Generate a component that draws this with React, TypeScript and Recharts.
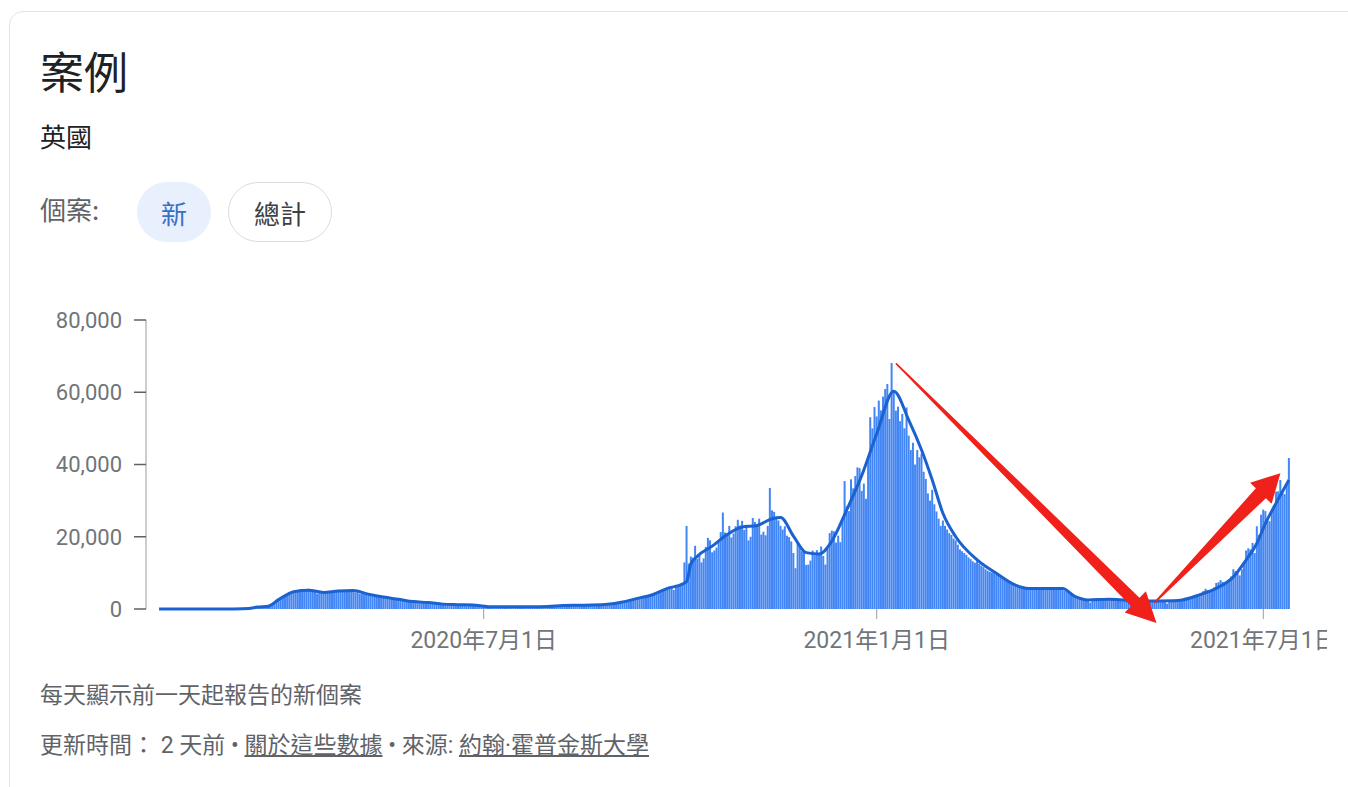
import React from 'react';
import { ComposedChart, Bar, Line, XAxis, YAxis, ReferenceLine } from 'recharts';

// ---------- data (daily new cases, UK) ----------
const startDate = '2020-01-31';
const cases2020Jan = [2];
const cases2020Feb = [0, 0, 0, 0, 0, 0, 1, 0, 1, 4, 0, 0, 0, 0, 0, 0, 0, 0, 0, 0, 0, 0, 0, 4, 0, 0, 3, 2, 7];
const cases2020Mar = [12, 13, 4, 11, 34, 30, 48, 43, 67, 48, 52, 83, 134, 350, 450, 500, 600, 650, 700, 750, 800, 900, 1200, 1600, 2000, 2500, 2900, 3300, 3600, 3900, 4200];
const cases2020Apr = [4500, 4700, 4900, 4600, 5100, 5300, 5000, 5400, 5200, 5600, 5100, 5300, 4800, 4300, 4400, 4500, 4200, 4600, 4700, 5000, 4900, 5200, 4800, 5300, 5000, 5100, 4700, 4900, 5400, 5200];
const cases2020May = [5000, 4600, 4700, 4300, 4400, 4100, 4200, 3700, 3900, 3500, 3700, 3400, 3500, 3100, 3300, 3000, 3100, 2700, 2900, 2600, 2800, 2500, 2600, 2300, 2400, 2100, 2200, 1900, 2100, 1800, 1900];
const cases2020Jun = [1900, 1750, 1850, 1800, 1700, 1800, 1600, 1500, 1400, 1350, 1300, 1350, 1250, 1300, 1200, 1250, 1150, 1200, 1250, 1150, 1200, 1100, 1150, 1100, 1050, 1100, 1000, 850, 750, 700];
const cases2020Jul = [650, 600, 640, 580, 560, 620, 600, 610, 590, 630, 570, 560, 610, 620, 600, 650, 900, 640, 600, 590, 620, 640, 660, 630, 610, 650, 680, 700, 690, 720, 710];
const cases2020Aug = [750, 800, 850, 900, 950, 1000, 980, 1020, 1000, 1050, 1030, 1060, 1040, 1070, 1050, 1000, 1080, 1100, 1120, 1090, 1110, 1130, 1150, 1100, 1180, 1200, 1250, 1300, 1350, 1400, 1450];
const cases2020Sep = [1550, 1750, 1800, 1950, 2050, 2150, 2350, 2450, 2700, 2750, 3000, 3050, 3200, 3350, 3450, 3700, 3750, 3950, 4100, 4350, 4500, 4900, 5000, 5500, 5600, 6000, 5800, 5300, 6700, 6600];
const cases2020Oct = [6900, 7100, 12900, 23000, 12600, 14500, 14200, 17500, 13900, 15200, 12900, 14000, 17200, 19700, 19000, 15700, 16200, 17000, 18800, 21300, 26700, 21200, 20500, 23000, 19800, 20900, 22900, 24700, 23100, 24400, 21900];
const cases2020Nov = [23300, 19000, 20000, 25200, 24100, 23300, 25000, 20600, 21400, 20400, 23000, 33500, 27300, 26900, 25000, 24500, 23000, 22000, 22900, 20300, 19900, 18700, 15500, 11300, 18200, 17600, 16000, 15900, 12200, 12300];
const cases2020Dec = [13400, 16200, 14900, 16300, 15500, 17300, 14700, 12300, 16600, 21000, 21700, 21500, 18400, 20300, 18500, 25200, 35400, 28500, 27100, 35900, 33400, 36800, 39200, 39000, 32700, 34700, 30500, 41400, 53100, 50000, 55900];
const cases2021Jan = [53300, 57700, 55000, 58800, 60900, 62300, 52600, 68100, 59900, 54900, 56000, 52000, 54000, 50000, 55800, 48000, 44000, 46000, 40000, 44000, 42000, 43000, 38000, 36000, 32000, 30000, 33000, 29000, 27000, 25000, 23000];
const cases2021Feb = [24500, 23000, 22000, 21000, 20500, 19500, 19000, 17800, 16500, 16000, 15500, 15000, 14300, 13800, 13200, 12800, 13200, 12500, 12000, 11600, 11000, 10600, 10300, 10100, 9900, 9500, 9200, 8800];
const cases2021Mar = [8400, 8000, 7600, 7300, 7000, 6800, 6500, 6300, 6100, 5900, 6000, 5800, 5700, 5900, 5600, 5500, 5800, 5700, 5600, 5800, 5700, 5900, 5600, 5800, 5700, 5900, 5600, 5500, 5300, 5000, 4800];
const cases2021Apr = [4400, 4000, 3600, 3200, 2900, 2700, 2500, 2600, 2700, 2500, 1800, 2800, 2600, 2700, 2800, 2700, 2600, 2500, 2700, 2800, 2600, 2700, 2500, 2600, 2400, 2300, 2400, 2300, 2200, 2300];
const cases2021May = [2200, 2100, 2000, 2100, 2300, 2200, 2200, 2100, 2200, 2100, 2200, 2300, 2200, 2100, 2200, 2300, 1500, 2300, 2400, 2300, 2400, 2300, 2500, 2400, 2600, 2800, 3000, 3200, 3300, 3400, 3500];
const cases2021Jun = [3800, 4300, 5000, 5600, 5200, 5000, 5400, 6000, 7200, 7400, 8000, 7500, 7200, 7600, 7700, 9000, 11000, 10500, 10300, 9300, 11000, 12500, 16200, 16800, 16500, 18300, 15500, 22900, 20500, 26100];
const cases2021Jul = [27500, 27100, 24900, 24300, 27300, 28800, 32500, 32600, 35700, 32400, 31800, 34500, 41800];

// 7-day average line
const avgDates = [
  '2020-01-31', '2020-02-14', '2020-02-28', '2020-03-06', '2020-03-13', '2020-03-17', '2020-03-22', '2020-03-27',
  '2020-04-03', '2020-04-10', '2020-04-17', '2020-04-24', '2020-05-01', '2020-05-08', '2020-05-15', '2020-05-22',
  '2020-05-29', '2020-06-05', '2020-06-12', '2020-06-19', '2020-06-26', '2020-07-03', '2020-07-10', '2020-07-17',
  '2020-07-24', '2020-07-31', '2020-08-07', '2020-08-14', '2020-08-21', '2020-08-28', '2020-09-04', '2020-09-11',
  '2020-09-18', '2020-09-25', '2020-10-02', '2020-10-04', '2020-10-06', '2020-10-09', '2020-10-16', '2020-10-23',
  '2020-10-30', '2020-11-06', '2020-11-13', '2020-11-17', '2020-11-23', '2020-11-29', '2020-12-05', '2020-12-11',
  '2020-12-18', '2020-12-25', '2021-01-01', '2021-01-09', '2021-01-16', '2021-01-22', '2021-01-27', '2021-02-01',
  '2021-02-07', '2021-02-17', '2021-02-26', '2021-03-07', '2021-03-13', '2021-03-29', '2021-04-04', '2021-04-10',
  '2021-04-20', '2021-05-05', '2021-05-20', '2021-05-24', '2021-06-01', '2021-06-09', '2021-06-17', '2021-06-23',
  '2021-06-28', '2021-07-02', '2021-07-07', '2021-07-13',
];
const avgValues = [
  0, 0, 1, 20, 120, 550, 750, 2600,
  4800, 5200, 4600, 5000, 5100, 4100, 3300, 2700,
  2050, 1800, 1350, 1200, 1100, 650, 600, 620,
  640, 700, 980, 1050, 1100, 1300, 1950, 2950,
  3950, 5700, 6900, 7600, 12500, 14600, 17400, 20600,
  22700, 23100, 25000, 25300, 20200, 15600, 15200, 18800,
  27500, 37000, 48500, 60300, 52300, 44000, 35700, 26500,
  20000, 13600, 9900, 6600, 5700, 5700, 3400, 2500,
  2700, 2200, 2300, 2500, 3900, 5700, 8900, 13600,
  18200, 23700, 29300, 35700,
];

const yTicks = [0, 20000, 40000, 60000, 80000];
const xTickDates = ['2020-07-01', '2021-01-01', '2021-07-01'];
const xTickLabels = ['2020年7月1日', '2021年1月1日', '2021年7月1日'];

// annotation arrows (data coordinates)
const arrowDown = [{ x: '2021-01-10', y: 68000 }, { x: '2021-05-12', y: -3900 }];
const arrowUp = [{ x: '2021-05-11', y: 1700 }, { x: '2021-07-09', y: 37600 }];

// ---------- build table ----------
const dailyCases = [
  ...cases2020Jan, ...cases2020Feb, ...cases2020Mar, ...cases2020Apr, ...cases2020May, ...cases2020Jun,
  ...cases2020Jul, ...cases2020Aug, ...cases2020Sep, ...cases2020Oct, ...cases2020Nov, ...cases2020Dec,
  ...cases2021Jan, ...cases2021Feb, ...cases2021Mar, ...cases2021Apr, ...cases2021May, ...cases2021Jun,
  ...cases2021Jul,
];

const t0 = new Date(startDate + 'T00:00:00Z').getTime();
const avgMap = new Map<string, number>(avgDates.map((d, i) => [d, avgValues[i]]));
const data = dailyCases.map((c, i) => {
  const date = new Date(t0 + i * 86400000).toISOString().slice(0, 10);
  return { date, cases: c, avg: avgMap.has(date) ? avgMap.get(date) : null };
});

const FONT = "Roboto, 'Noto Sans CJK TC', sans-serif";
const CJK = "'Noto Sans CJK TC', Roboto, sans-serif";

const makeArrow = (w0: number, w1: number, headLen: number, headW: number) => (props: any) => {
  const { x1, y1, x2, y2 } = props;
  if (![x1, y1, x2, y2].every((v) => typeof v === 'number' && isFinite(v))) return <g />;
  const dx = x2 - x1;
  const dy = y2 - y1;
  const len = Math.hypot(dx, dy) || 1;
  const ux = dx / len;
  const uy = dy / len;
  const nx = -uy;
  const ny = ux;
  const bx = x2 - ux * headLen;
  const by = y2 - uy * headLen;
  const pts = [
    [x1 + (nx * w0) / 2, y1 + (ny * w0) / 2],
    [bx + (nx * w1) / 2, by + (ny * w1) / 2],
    [bx + (nx * headW) / 2, by + (ny * headW) / 2],
    [x2, y2],
    [bx - (nx * headW) / 2, by - (ny * headW) / 2],
    [bx - (nx * w1) / 2, by - (ny * w1) / 2],
    [x1 - (nx * w0) / 2, y1 - (ny * w0) / 2],
  ];
  return <polygon points={pts.map((p) => p.join(',')).join(' ')} fill="#f0211b" />;
};

const fmtNum = (v: number) => v.toLocaleString('en-US');
const fmtDate = (d: string) => {
  const i = xTickDates.indexOf(d);
  return i >= 0 ? xTickLabels[i] : '';
};

export default function App() {
  return (
    <div style={{ position: 'absolute', left: 0, top: 0, width: 1348, height: 787, overflow: 'hidden', background: '#fff', fontFamily: FONT }}>
      <div style={{ position: 'absolute', left: 9, top: 11, width: 1400, height: 820, border: '1px solid #e3e3e3', borderRadius: 14, boxSizing: 'border-box' }} />
      <div style={{ position: 'absolute', left: 40, top: 48, fontSize: 44, lineHeight: '44px', color: '#202124', fontFamily: CJK }}>案例</div>
      <div style={{ position: 'absolute', left: 40, top: 123, fontSize: 26, lineHeight: '26px', color: '#202124', fontFamily: CJK }}>英國</div>
      <div style={{ position: 'absolute', left: 40, top: 196, fontSize: 26, lineHeight: '26px', color: '#5f6368', fontFamily: CJK }}>個案:</div>
      <div style={{ position: 'absolute', left: 137, top: 182, width: 74, height: 60, borderRadius: 30, background: '#e8f0fe', color: '#3a6fc5', fontSize: 26, fontFamily: CJK, display: 'flex', alignItems: 'center', justifyContent: 'center' }}>新</div>
      <div style={{ position: 'absolute', left: 228, top: 182, width: 104, height: 60, borderRadius: 30, border: '1px solid #dadce0', boxSizing: 'border-box', background: '#fff', color: '#3c4043', fontSize: 26, fontFamily: CJK, display: 'flex', alignItems: 'center', justifyContent: 'center' }}>總計</div>

      <div style={{ position: 'absolute', left: 0, top: 300, width: 1327, height: 370, overflow: 'hidden' }}>
        <ComposedChart
          width={1327}
          height={370}
          data={data}
          margin={{ top: 20, right: 37, bottom: 11, left: 0 }}
          barCategoryGap={0}
          barGap={0}
          style={{ fontFamily: FONT }}
        >
          <XAxis
            dataKey="date"
            ticks={xTickDates}
            interval={0}
            tickFormatter={fmtDate}
            axisLine={false}
            tickLine={{ stroke: '#9e9e9e', strokeWidth: 1 }}
            tickSize={10}
            tickMargin={13}
            height={50}
            padding={{ left: 12, right: 0 }}
            tick={{ fill: '#70757a', fontSize: 23, fontFamily: FONT }}
          />
          <YAxis
            type="number"
            domain={[0, 80000]}
            ticks={yTicks}
            tickFormatter={fmtNum}
            width={146}
            axisLine={{ stroke: '#bdbdbd', strokeWidth: 1.5 }}
            tickLine={{ stroke: '#616161', strokeWidth: 1.5 }}
            tickSize={12}
            tickMargin={12}
            tick={{ fill: '#70757a', fontSize: 22, fontFamily: FONT }}
          />
          <Bar dataKey="cases" fill="#4285f4" isAnimationActive={false} />
          <Line
            dataKey="avg"
            type="monotone"
            stroke="#1a62cf"
            strokeWidth={3}
            dot={false}
            activeDot={false}
            connectNulls
            isAnimationActive={false}
          />
          <ReferenceLine segment={arrowDown} ifOverflow="visible" shape={makeArrow(1.5, 12, 30, 30)} />
          <ReferenceLine segment={arrowUp} ifOverflow="visible" shape={makeArrow(1.5, 14, 28, 30)} />
        </ComposedChart>
      </div>

      <div style={{ position: 'absolute', left: 40, top: 682, fontSize: 23, lineHeight: '23px', color: '#5f6368', fontFamily: CJK, whiteSpace: 'nowrap' }}>每天顯示前一天起報告的新個案</div>
      <div style={{ position: 'absolute', left: 40, top: 734, fontSize: 23, lineHeight: '23px', color: '#5f6368', fontFamily: FONT, whiteSpace: 'nowrap' }}>
        更新時間： 2 天前 • <span style={{ textDecoration: 'underline' }}>關於這些數據</span> • 來源: <span style={{ textDecoration: 'underline' }}>約翰·霍普金斯大學</span>
      </div>
    </div>
  );
}
